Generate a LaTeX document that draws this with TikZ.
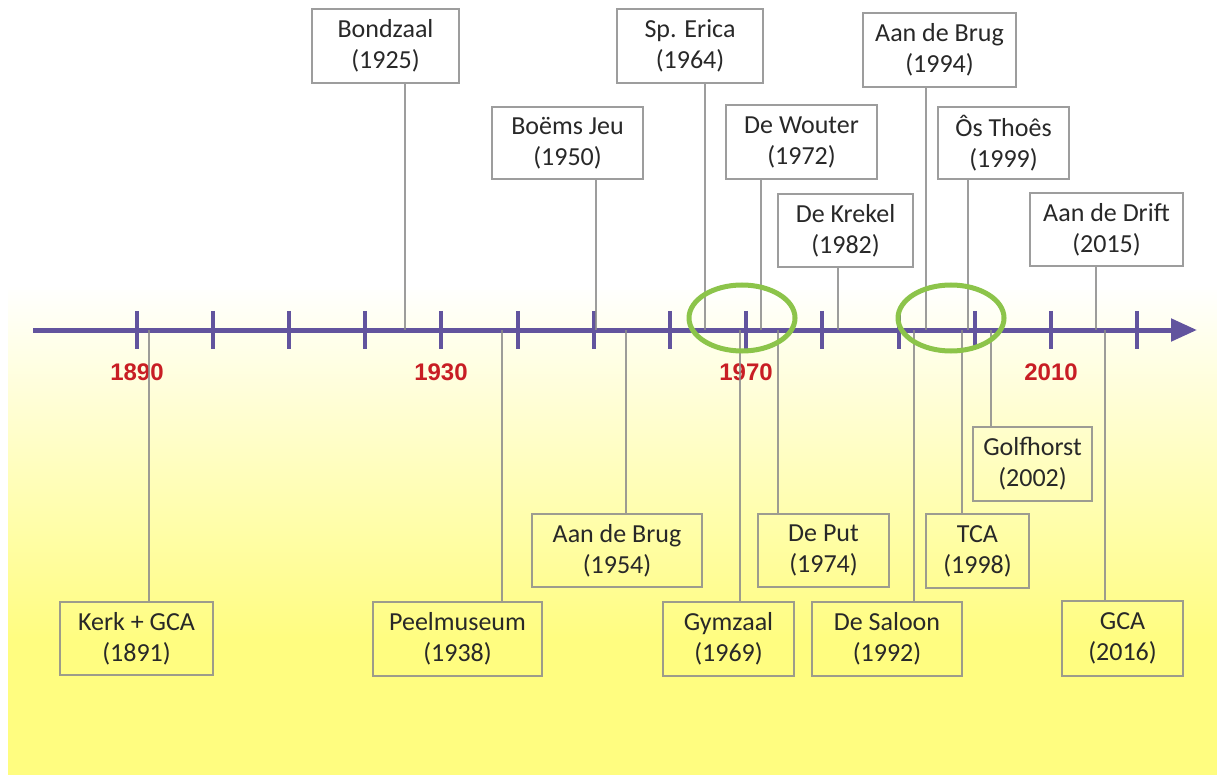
\documentclass[tikz,border=0pt]{standalone}
\usepackage{fontspec}
\setmainfont{Carlito}
\newfontfamily\yrfont{Liberation Sans}
\usetikzlibrary{arrows.meta}
\definecolor{axisc}{RGB}{98,84,158}
\definecolor{ringgreen}{RGB}{140,196,74}
\definecolor{yrred}{RGB}{200,30,36}
\definecolor{boxgray}{RGB}{140,140,140}
\definecolor{txt}{RGB}{40,40,40}
\definecolor{bgyellow}{RGB}{255,253,128}
\begin{document}
\begin{tikzpicture}[x=1pt,y=-1pt,
  box/.style={draw=boxgray, draw opacity=0.85, line width=2.6pt, inner sep=0pt, align=center, text=txt, font=\fontsize{26}{31}\selectfont},
  conn/.style={draw=boxgray, draw opacity=0.85, line width=2.6pt},
  yr/.style={text=yrred, font=\yrfont\bfseries\fontsize{24}{24}\selectfont},
  tickmark/.style={draw=axisc, line width=4.5pt},
  axisline/.style={draw=axisc, line width=5pt},
  ring/.style={draw=ringgreen, line width=5pt}]
\useasboundingbox (0,0) rectangle (1217,775);
% background
\shade[top color=white, bottom color=bgyellow] (8,285) rectangle (1217,641);
\fill[bgyellow] (8,640) rectangle (1217,775);
% axis
\coordinate (axL) at (33,330);
\coordinate (axR) at (1197,330);
\draw[axisline, -{Triangle[length=26pt,width=22pt]}] (axL) -- (axR);
\foreach \x in {137,213,289,365,441,518,594,670,746,822,899,975,1051,1137}
  \draw[tickmark] (\x,311) -- (\x,349);
% year labels
\node[yr] (y1890) at (137,372) {1890};
\node[yr] (y1930) at (441,372) {1930};
\node[yr] (y1970) at (746,372) {1970};
\node[yr] (y2010) at (1051,372) {2010};
% top boxes
\node[box, minimum width=147pt, minimum height=74pt] (bondzaal) at (385.5,46) {Bondzaal\\(1925)};
\node[box, minimum width=146pt, minimum height=74pt] (erica) at (690,46) {Sp. Erica\\(1964)};
\node[box, minimum width=153pt, minimum height=74pt] (brugA) at (939.5,50) {Aan de Brug\\(1994)};
\node[box, minimum width=151pt, minimum height=72pt] (boems) at (567.5,143) {Boëms Jeu\\(1950)};
\node[box, minimum width=151pt, minimum height=74pt] (wouter) at (801.5,142) {De Wouter\\(1972)};
\node[box, minimum width=131pt, minimum height=72pt] (osthoes) at (1003.5,143) {Ôs Thoês\\(1999)};
\node[box, minimum width=135pt, minimum height=73pt] (krekel) at (845.5,230.5) {De Krekel\\(1982)};
\node[box, minimum width=153pt, minimum height=73pt] (drift) at (1106.5,229.5) {Aan de Drift\\(2015)};
% bottom boxes
\node[box, minimum width=153pt, minimum height=73pt] (kerk) at (136.5,638.5) {Kerk + GCA\\(1891)};
\node[box, minimum width=169pt, minimum height=74pt] (peel) at (457.5,639) {Peelmuseum\\(1938)};
\node[box, minimum width=170pt, minimum height=73pt] (brugB) at (617,550.5) {Aan de Brug\\(1954)};
\node[box, minimum width=131pt, minimum height=74pt] (gym) at (728.5,639) {Gymzaal\\(1969)};
\node[box, minimum width=131pt, minimum height=73pt] (put) at (823.5,550.5) {De Put\\(1974)};
\node[box, minimum width=150pt, minimum height=74pt] (saloon) at (887,639) {De Saloon\\(1992)};
\node[box, minimum width=103pt, minimum height=74pt] (tca) at (977.5,551) {TCA\\(1998)};
\node[box, minimum width=119pt, minimum height=74pt] (golf) at (1032.5,464) {Golfhorst\\(2002)};
\node[box, minimum width=121pt, minimum height=75pt] (gca) at (1122.5,638.5) {GCA\\(2016)};
% axis anchor points
\coordinate (p1925) at (405,330);
\coordinate (p1964) at (705,330);
\coordinate (p1994) at (926,330);
\coordinate (p1950) at (596,330);
\coordinate (p1972) at (761,330);
\coordinate (p1999) at (968,330);
\coordinate (p1982) at (838,330);
\coordinate (p2015) at (1096,330);
\coordinate (p1891) at (149,330);
\coordinate (p1938) at (502,330);
\coordinate (p1954) at (626,330);
\coordinate (p1969) at (740,330);
\coordinate (p1974) at (778,330);
\coordinate (p1992) at (914,330);
\coordinate (p1998) at (962,330);
\coordinate (p2002) at (991,330);
\coordinate (p2016) at (1105,330);
% connectors
\foreach \p/\b in {p1925/bondzaal,p1964/erica,p1994/brugA,p1950/boems,p1972/wouter,p1999/osthoes,p1982/krekel,p2015/drift}
  \draw[conn] (\p) -- (\p |- \b.south);
\foreach \p/\b in {p1891/kerk,p1938/peel,p1954/brugB,p1969/gym,p1974/put,p1992/saloon,p1998/tca,p2002/golf,p2016/gca}
  \draw[conn] (\p) -- (\p |- \b.north);
% highlight rings
\draw[ring] (742,318) ellipse [x radius=53pt, y radius=33pt];
\draw[ring] (951,318) ellipse [x radius=53pt, y radius=33pt];
\end{tikzpicture}
\end{document}
